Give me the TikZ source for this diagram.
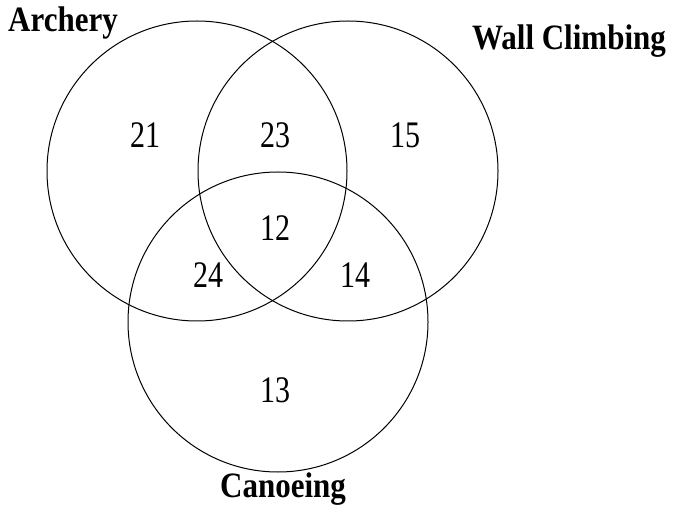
\documentclass[tikz,border=0pt]{standalone}
\usepackage{fontspec}
\setmainfont{Liberation Serif}
\begin{document}
\begin{tikzpicture}
            [x=1pt, y=1pt,
            set/.style={black, line width=1pt},
            count/.style={font=\fontsize{30}{36}\selectfont, yscale=1.25, transform shape},
            title/.style={font=\fontsize{31}{36}\selectfont\bfseries, yscale=1.15, transform shape}]

            \useasboundingbox (0,0) rectangle (674,506);

            % Circles for the three activities
            \draw[set] (197,335) circle (150);
            \draw[set] (348,335) circle (150);
            \draw[set] (278,184) circle (150);

            % Labels for the circles
            \node[title] (archery) at (63,483) {Archery};
            \node[title] (wall) at (569,465) {Wall Climbing};
            \node[title] (canoe) at (283,17) {Canoeing};

            % Counts in each region
            \node[count] (a) at (145,371) {21};
            \node[count] (aw) at (275,371) {23};
            \node[count] (w) at (405,371) {15};
            \node[count] (awc) at (275,278) {12};
            \node[count] (ac) at (208,231) {24};
            \node[count] (wc) at (355,231) {14};
            \node[count] (c) at (275,116) {13};

\end{tikzpicture}
\end{document}
